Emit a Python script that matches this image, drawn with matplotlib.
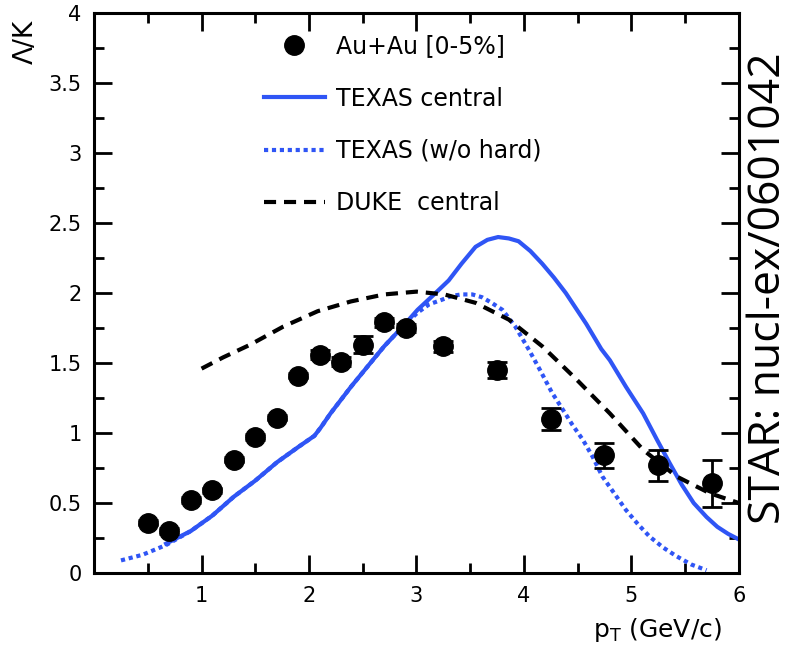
import matplotlib
matplotlib.use('Agg')
import matplotlib.pyplot as plt

# data points Au+Au 0-5%
pt = [0.5, 0.7, 0.9, 1.1, 1.3, 1.5, 1.7, 1.9, 2.1, 2.3, 2.5, 2.7, 2.9, 3.25, 3.75, 4.25, 4.75, 5.25, 5.75]
ratio = [0.36, 0.30, 0.52, 0.59, 0.81, 0.97, 1.11, 1.41, 1.56, 1.51, 1.63, 1.79, 1.75, 1.62, 1.45, 1.10, 0.84, 0.77, 0.64]
err = [0.02, 0.02, 0.02, 0.02, 0.02, 0.02, 0.02, 0.02, 0.03, 0.03, 0.06, 0.03, 0.03, 0.04, 0.06, 0.08, 0.09, 0.11, 0.17]

# TEXAS central
tx_x = [0.67, 0.9, 1.1, 1.3, 1.5, 1.7, 1.9, 2.05, 2.11, 2.2, 2.39, 2.55, 2.7, 2.86, 3.01, 3.15, 3.3, 3.42, 3.55,
        3.66, 3.76, 3.86, 3.95, 4.06, 4.17, 4.28, 4.39, 4.58, 4.72, 4.8, 4.95, 5.11, 5.24, 5.36, 5.47, 5.58,
        5.7, 5.8, 5.9, 6.0]
tx_y = [0.21, 0.30, 0.41, 0.545, 0.66, 0.79, 0.90, 0.98, 1.04, 1.14, 1.33, 1.48, 1.62, 1.75, 1.88, 1.98, 2.09, 2.21, 2.33,
        2.38, 2.40, 2.39, 2.37, 2.30, 2.21, 2.11, 2.00, 1.78, 1.60, 1.52, 1.33, 1.14, 0.95, 0.78, 0.63, 0.50,
        0.40, 0.33, 0.28, 0.24]

# TEXAS w/o hard
th_x = [0.25, 0.45, 0.67, 0.9, 1.1, 1.3, 1.5, 1.7, 1.9, 2.05, 2.11, 2.2, 2.39, 2.55, 2.7, 2.86, 3.01, 3.12, 3.23,
        3.33, 3.42, 3.52, 3.61, 3.7, 3.8, 3.92, 4.05, 4.15, 4.26, 4.36, 4.45, 4.55, 4.64, 4.73, 4.84, 4.95,
        5.06, 5.17, 5.3, 5.42, 5.56, 5.7]
th_y = [0.09, 0.13, 0.20, 0.30, 0.41, 0.545, 0.66, 0.79, 0.90, 0.98, 1.04, 1.14, 1.33, 1.48, 1.62, 1.75, 1.86, 1.92, 1.95,
        1.98, 1.99, 1.99, 1.97, 1.93, 1.88, 1.76, 1.59, 1.45, 1.29, 1.17, 1.06, 0.95, 0.83, 0.69, 0.57, 0.45,
        0.35, 0.26, 0.18, 0.12, 0.06, 0.02]

# DUKE central
dk_x = [1.0, 1.2, 1.45, 1.76, 2.08, 2.39, 2.7, 3.0, 3.26, 3.55, 3.86, 4.17, 4.48, 4.8, 5.11, 5.42, 5.73, 6.0]
dk_y = [1.46, 1.54, 1.63, 1.76, 1.87, 1.94, 1.99, 2.01, 1.99, 1.93, 1.81, 1.62, 1.39, 1.14, 0.88, 0.69, 0.57, 0.50]

blue = '#2f55f5'
fs = 15
lfs = 17

fig = plt.figure(figsize=(7.91, 6.53), dpi=100)
ax = fig.add_axes([0.119, 0.1225, 0.815, 0.8575])

ax.plot(tx_x, tx_y, color=blue, lw=3, label='TEXAS central')
ax.plot(th_x, th_y, color=blue, lw=3, linestyle=(0, (1, 0.9)), label='TEXAS (w/o hard)')
ax.plot(dk_x, dk_y, color='black', lw=3, linestyle=(0, (2.9, 1.9)), label='DUKE  central')
ax.errorbar(pt, ratio, yerr=err, fmt='none', ecolor='black', elinewidth=2, capsize=7, capthick=2)
dots, = ax.plot(pt, ratio, 'o', color='black', markersize=14, label='Au+Au [0-5%]')

h, l = ax.get_legend_handles_labels()
order = [3, 0, 1, 2]
ax.legend([h[i] for i in order], [l[i] for i in order], frameon=False, fontsize=lfs,
          loc='upper left', bbox_to_anchor=(0.23, 1.0), handlelength=2.6,
          labelspacing=1.2, handletextpad=0.45)

ax.set_xlim(0, 6)
ax.set_ylim(0, 4)
ax.set_xticks([1, 2, 3, 4, 5, 6])
ax.set_xticks([0.5, 1.5, 2.5, 3.5, 4.5, 5.5], minor=True)
ax.set_yticks([0, 0.5, 1, 1.5, 2, 2.5, 3, 3.5, 4])
ax.set_yticklabels(['0', '0.5', '1', '1.5', '2', '2.5', '3', '3.5', '4'])
ax.set_yticks([0.25 + 0.5 * i for i in range(8)], minor=True)
ax.tick_params(which='both', direction='in', top=True, right=True, width=2, labelsize=fs, pad=9)
ax.tick_params(which='major', length=13)
ax.tick_params(which='minor', length=7)
for s in ax.spines.values():
    s.set_linewidth(2.2)

fig.text(0.032, 0.97, 'Λ/K', rotation=90, ha='center', va='top', fontsize=19)
fig.text(0.831, 0.035, r'$\mathregular{p_T}$ (GeV/c)', ha='center', va='center', fontsize=18)
fig.text(0.972, 0.559, 'STAR: nucl-ex/0601042', rotation=90, ha='center', va='center',
         fontsize=32, family='Open Sans')

fig.savefig('out.png', dpi=100)
